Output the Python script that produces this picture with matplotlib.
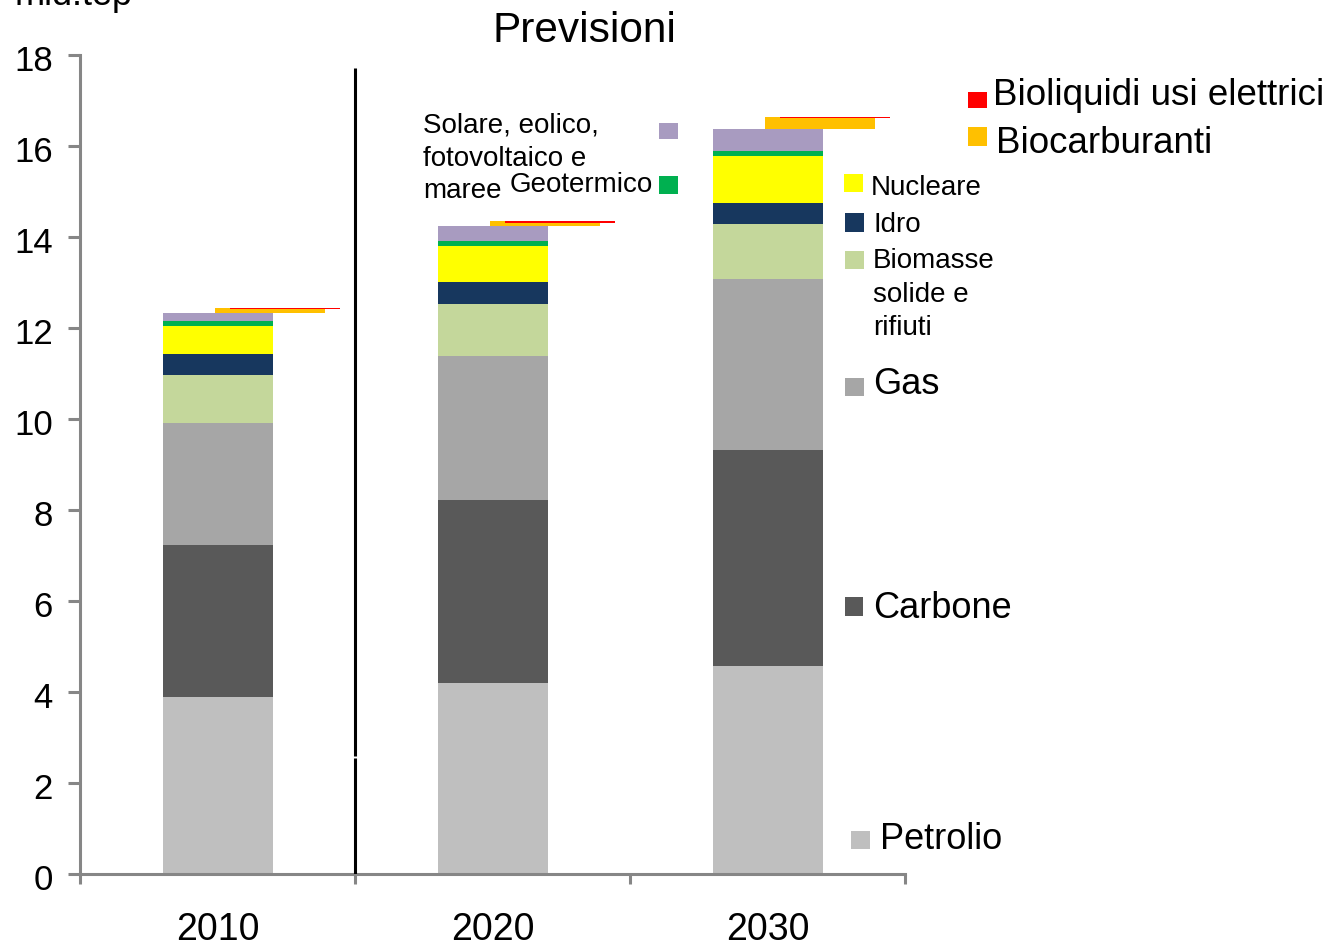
import matplotlib
matplotlib.use("Agg")
import matplotlib.pyplot as plt
import matplotlib.transforms as mtransforms
from matplotlib.patches import Rectangle
import numpy as np

plt.rcParams['font.family'] = ['Liberation Sans', 'DejaVu Sans']

# ---------------- data (mld.tep) ----------------
years = ['2010', '2020', '2030']
petrolio = [3.89, 4.20, 4.57]
carbone = [3.34, 4.02, 4.75]
gas = [2.68, 3.16, 3.76]
biomasse = [1.06, 1.14, 1.20]
idro = [0.46, 0.50, 0.47]
nucleare = [0.61, 0.78, 1.02]
geotermico = [0.11, 0.11, 0.11]
solare = [0.19, 0.33, 0.50]
biocarburanti = [0.11, 0.11, 0.26]
bioliquidi = [0.04, 0.04, 0.03]
yticks = [0, 2, 4, 6, 8, 10, 12, 14, 16, 18]

series = [
    ('Petrolio', petrolio, '#BFBFBF'),
    ('Carbone', carbone, '#595959'),
    ('Gas', gas, '#A6A6A6'),
    ('Biomasse solide e rifiuti', biomasse, '#C4D79B'),
    ('Idro', idro, '#17375E'),
    ('Nucleare', nucleare, '#FFFF00'),
    ('Geotermico', geotermico, '#00B050'),
    ('Solare, eolico, fotovoltaico e maree', solare, '#A89BC0'),
]

W, H = 1332, 947
fig = plt.figure(figsize=(W / 100, H / 100), dpi=100)


def fx(x):
    return x / W


def fy(y):
    return 1 - y / H


ax = fig.add_axes([fx(80), fy(874), fx(905) - fx(80), fy(55) - fy(874)])
x = np.arange(len(years))
bottom = np.zeros(len(years))
for name, vals, col in series:
    ax.bar(x, vals, 0.4, bottom=bottom, color=col, linewidth=0, zorder=2)
    bottom = bottom + np.array(vals)
total = bottom.copy()
bio = np.array(biocarburanti)
ax.bar(x + 0.19, bio, 0.4, bottom=total, color='#FFC000', linewidth=0, zorder=2)
red = np.array(bioliquidi)
ax.bar(x + 0.245, red, 0.4, bottom=total + bio - red, color='#FF0000', linewidth=0, zorder=3)

# separator line
ax.plot([0.5, 0.5], [0, 2.55], color='black', lw=2.2, zorder=4, solid_capstyle='butt')
ax.plot([0.5, 0.5], [2.59, 17.72], color='black', lw=2.2, zorder=4, solid_capstyle='butt')

ax.set_xlim(-0.5, 2.5)
ax.set_ylim(0, 18)
for s in ['top', 'right']:
    ax.spines[s].set_visible(False)
for s in ['left', 'bottom']:
    ax.spines[s].set_color('#868686')
    ax.spines[s].set_linewidth(2.2)
ax.set_yticks(yticks)
ax.set_yticklabels([str(v) for v in yticks])
ax.tick_params(axis='y', direction='out', length=8.5, width=2.2, color='#868686',
               labelsize=25, pad=11)
offset = mtransforms.ScaledTranslation(0, -3 / 100, fig.dpi_scale_trans)
for lab in ax.get_yticklabels():
    lab.set_transform(lab.get_transform() + offset)
ax.set_xticks(x)
ax.set_xticklabels(years)
ax.tick_params(axis='x', which='major', length=0, labelsize=27, pad=27)
ax.set_xticks([-0.5, 0.5, 1.5, 2.5], minor=True)
ax.tick_params(axis='x', which='minor', direction='out', length=7, width=2.2, color='#868686')

# texts
fig.text(fx(15), fy(5), 'mld.tep', fontsize=26, ha='left', va='baseline')
fig.text(fx(584), fy(31), 'Previsioni', fontsize=30.5, ha='center', va='center')


def square(x0, y0, x1, y1, col):
    fig.add_artist(Rectangle((fx(x0), fy(y1)), (x1 - x0) / W, (y1 - y0) / H,
                             transform=fig.transFigure, color=col, linewidth=0))


def label(xl, yb, s, size):
    fig.text(fx(xl), fy(yb), s, fontsize=size, ha='left', va='baseline')


square(968, 92, 987, 108, '#FF0000')
label(993, 105, 'Bioliquidi usi elettrici', 26.5)
square(968, 127, 987, 146, '#FFC000')
label(996, 153, 'Biocarburanti', 26.5)

square(659, 123, 678, 139, '#A89BC0')
label(423, 133, 'Solare, eolico,', 20)
label(423, 166, 'fotovoltaico e', 20)
label(423, 198, 'maree', 20)
square(659, 176, 678, 194, '#00B050')
label(510, 192, 'Geotermico', 20)

square(844, 174, 863, 192, '#FFFF00')
label(871, 195, 'Nucleare', 20)
square(845, 213, 864, 232, '#17375E')
label(873, 232, 'Idro', 20)
square(845, 251, 864, 269, '#C4D79B')
label(873, 268, 'Biomasse', 20)
label(873, 301.5, 'solide e', 20)
label(873, 335, 'rifiuti', 20)
square(845, 378, 864, 396, '#A6A6A6')
label(873, 394, 'Gas', 26)
square(845, 597, 863, 616, '#595959')
label(873, 618, 'Carbone', 26)
square(851, 831, 870, 849, '#BFBFBF')
label(880, 849, 'Petrolio', 26)

fig.savefig('out.png', dpi=100)
